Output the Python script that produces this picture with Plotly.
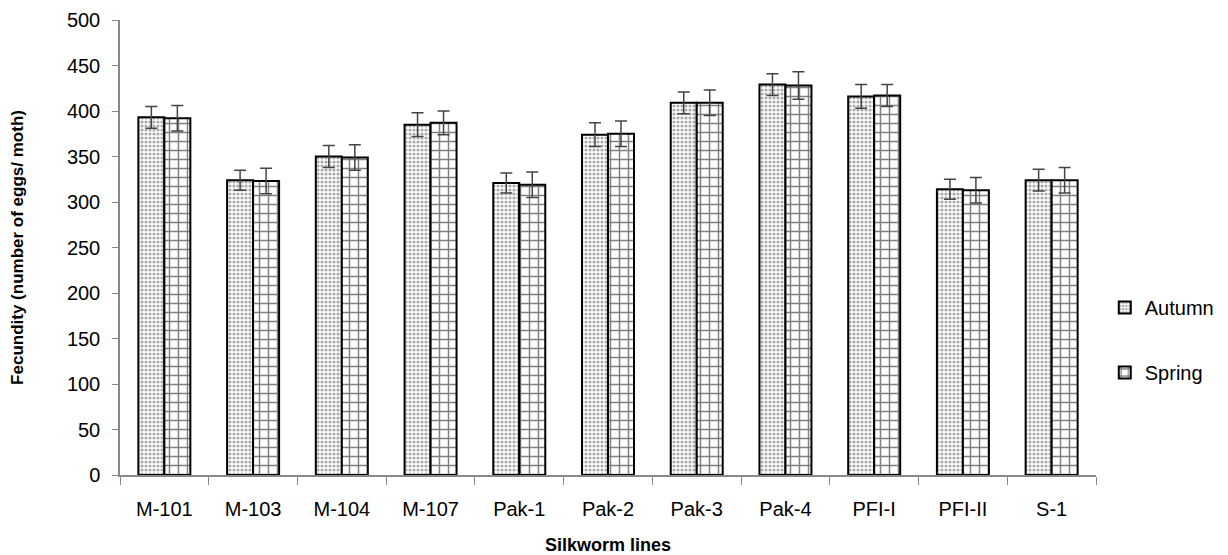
import plotly.graph_objects as go

lines = ["M-101", "M-103", "M-104", "M-107", "Pak-1", "Pak-2", "Pak-3", "Pak-4", "PFI-I", "PFI-II", "S-1"]
autumn = [393, 324, 350, 385, 321, 374, 409, 429, 416, 314, 324]
spring = [392, 323, 349, 387, 319, 375, 409, 428, 417, 313, 324]
autumn_err = [12, 11, 12, 13, 11, 13, 12, 12, 13, 11, 12]
spring_err = [14, 14, 14, 13, 14, 14, 14, 15, 12, 14, 14]

font = "Liberation Sans, Arial, sans-serif"

fig = go.Figure()
fig.add_trace(go.Bar(
    x=lines, y=autumn, name="Autumn", legendgroup="a",
    marker=dict(color="white", line=dict(color="black", width=2),
                pattern=dict(shape=".", size=4, solidity=0.5, fgcolor="#555", bgcolor="white")),
    error_y=dict(type="data", array=autumn_err, color="#444", thickness=1.5, width=6),
))
fig.add_trace(go.Bar(
    x=lines, y=spring, name="Spring", legendgroup="s",
    marker=dict(color="white", line=dict(color="black", width=2),
                pattern=dict(shape="+", size=9, solidity=0.3, fgcolor="black", bgcolor="white")),
    error_y=dict(type="data", array=spring_err, color="#444", thickness=1.5, width=6),
))

# page has an 8px body margin, so the figure is 8px smaller than the window
fig.update_layout(
    width=1220, height=547,
    margin=dict(l=112, r=132, t=12, b=80),
    paper_bgcolor="white", plot_bgcolor="white",
    barmode="group", bargap=0.414, bargroupgap=0,
    font=dict(family=font, size=20, color="black"),
    legend=dict(xref="container", yref="container", x=0.899, y=0.393,
                yanchor="middle", xanchor="left",
                font=dict(size=20), tracegroupgap=36, bgcolor="rgba(0,0,0,0)",
                itemwidth=30),
    xaxis=dict(
        title=dict(text="<b>Silkworm lines</b>", font=dict(size=18), standoff=21),
        showline=True, linecolor="#888", linewidth=1.5,
        ticks="outside", tickson="boundaries", ticklen=8, tickcolor="#888",
        tickfont=dict(size=20), ticklabelstandoff=15, automargin=False,
    ),
    yaxis=dict(
        title=dict(text="<b>Fecundity (number of eggs/ moth)</b>", font=dict(size=17), standoff=50),
        range=[0, 500], dtick=50, showgrid=False, zeroline=False,
        showline=True, linecolor="#888", linewidth=1.5,
        ticks="outside", ticklen=6, tickcolor="#888",
        tickfont=dict(size=20), ticklabelstandoff=8, automargin=False,
        ticklabeloverflow="allow",
    ),
)

fig.write_html("out.html")
